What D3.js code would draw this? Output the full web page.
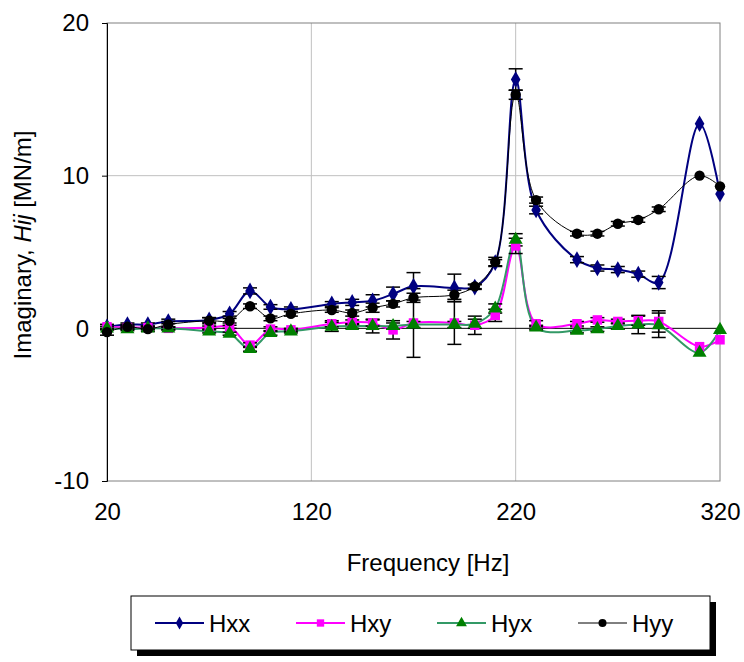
<!DOCTYPE html>
<html>
<head>
<meta charset="utf-8">
<script src="https://cdn.jsdelivr.net/npm/d3@7.9.0/dist/d3.min.js"></script>
<style>
  body { margin: 0; background: #fff; }
  text { font-family: "Liberation Sans", Arial, sans-serif; fill: #000; }
</style>
</head>
<body>
<svg id="chart" width="744" height="662"></svg>
<script>
const freq = [20,30,40,50,70,80,90,100,110,130,140,150,160,170,190,200,210,220,230,250,260,270,280,290,310,320];

const hxx = [0.1,0.25,0.25,0.45,0.55,0.95,2.45,1.4,1.25,1.6,1.7,1.8,2.25,2.75,2.65,2.7,4.3,16.3,7.75,4.5,3.95,3.85,3.55,3.0,13.4,8.8];
const hxy = [0.1,0.05,0.05,0.0,0.05,0.1,-1.1,-0.05,-0.1,0.3,0.4,0.35,-0.1,0.35,0.35,0.2,0.85,5.4,0.3,0.3,0.55,0.45,0.5,0.45,-1.2,-0.75];
const hyx = [0.0,-0.05,0.0,0.0,-0.2,-0.35,-1.35,-0.3,-0.2,0.1,0.15,0.15,0.15,0.25,0.25,0.3,1.3,5.8,0.05,-0.15,-0.05,0.15,0.25,0.2,-1.6,-0.1];
const hyy = [-0.25,0.1,-0.05,0.25,0.5,0.5,1.45,0.65,0.95,1.2,1.0,1.35,1.6,2.0,2.2,2.75,4.35,15.3,8.4,6.2,6.2,6.85,7.1,7.8,10.0,9.3];

// error bar half-lengths
const errXX = [0.15,0.1,0.1,0.15,0.15,0.15,0.2,0.15,0.15,0.15,0.2,0.4,0.45,0.9,0.9,0.15,0.2,0.7,0.25,0.2,0.2,0.2,0.2,0.4,0,0];
const errXY = [0.15,0.1,0.1,0.1,0.1,0.1,0.15,0.15,0.1,0.2,0.15,0.2,0.6,2.25,1.4,0.6,0.4,0.5,0.2,0.15,0.15,0.15,0.3,0.7,0,0];
const errYX = [0.1,0.1,0.1,0.1,0.1,0.1,0.15,0.15,0.1,0.3,0.15,0.45,0.2,0.2,0.2,0.3,0.3,0.4,0.15,0.15,0.15,0.2,0.6,0.8,0,0];
const errYY = [0.2,0.15,0.15,0.2,0.2,0.15,0.15,0.15,0.15,0.15,0.2,0.3,0.2,0.3,0.3,0.15,0.3,0.3,0.2,0.15,0.15,0.15,0.15,0.15,0,0];

const xTicks = [20,120,220,320];
const yTicks = [-10,0,10,20];

const series = [
  { name: 'Hxx', values: hxx, err: errXX, line: '#000080', fill: '#000080', width: 2, symbol: d3.symbolDiamond, size: 80 },
  { name: 'Hxy', values: hxy, err: errXY, line: '#ff00ff', fill: '#ff00ff', width: 2, symbol: d3.symbolSquare, size: 90 },
  { name: 'Hyx', values: hyx, err: errYX, line: '#339966', fill: '#008000', width: 2, symbol: d3.symbolTriangle, size: 85 },
  { name: 'Hyy', values: hyy, err: errYY, line: '#000000', fill: '#000000', width: 1, symbol: d3.symbolCircle, size: 85 }
];

const svg = d3.select('#chart');
const pL = 107, pR = 720, pT = 23, pB = 481;
const fontSize = '24px';

const x = d3.scaleLinear().domain([20, 320]).range([pL, pR]);
const y = d3.scaleLinear().domain([-10, 20]).range([pB, pT]);

// gridlines
svg.append('g').selectAll('line').data([120, 220]).join('line')
  .attr('x1', d => x(d)).attr('x2', d => x(d)).attr('y1', pT).attr('y2', pB)
  .attr('stroke', '#c0c0c0').attr('stroke-width', 1);
svg.append('g').selectAll('line').data([10]).join('line')
  .attr('x1', pL).attr('x2', pR).attr('y1', d => y(d)).attr('y2', d => y(d))
  .attr('stroke', '#c0c0c0').attr('stroke-width', 1);

// plot area border
svg.append('rect').attr('x', pL).attr('y', pT).attr('width', pR - pL).attr('height', pB - pT)
  .attr('fill', 'none').attr('stroke', '#808080').attr('stroke-width', 1);

// y axis
const yAxis = svg.append('g').attr('transform', `translate(${pL},0)`)
  .call(d3.axisLeft(y).tickValues(yTicks).tickSize(5).tickPadding(13).tickFormat(d => String(d)));
yAxis.select('.domain').attr('stroke', '#000');
yAxis.selectAll('text').style('font-size', fontSize).attr('font-family', 'Liberation Sans, Arial, sans-serif');

// zero line (x axis crossing)
svg.append('line').attr('x1', pL).attr('x2', pR).attr('y1', y(0)).attr('y2', y(0))
  .attr('stroke', '#000').attr('stroke-width', 1);

// x tick labels at bottom
const xAxis = svg.append('g').attr('transform', `translate(0,${pB})`)
  .call(d3.axisBottom(x).tickValues(xTicks).tickSize(0).tickPadding(22).tickFormat(d => String(d)));
xAxis.select('.domain').remove();
xAxis.selectAll('text').style('font-size', fontSize).attr('font-family', 'Liberation Sans, Arial, sans-serif');

// axis titles
svg.append('text').attr('x', 428).attr('y', 571).attr('text-anchor', 'middle')
  .style('font-size', fontSize).text('Frequency [Hz]');

const yt = svg.append('text').attr('transform', 'translate(31,245) rotate(-90)')
  .attr('text-anchor', 'middle').style('font-size', fontSize);
yt.append('tspan').text('Imaginary, ');
yt.append('tspan').style('font-style', 'italic').text('Hij');
yt.append('tspan').text(' [MN/m]');

const line = d3.line().x((d, i) => x(freq[i])).y(d => y(d)).curve(d3.curveCatmullRom.alpha(0.5));

// lines, error bars and markers per series
series.forEach(s => {
  svg.append('path').datum(s.values).attr('d', line)
    .attr('fill', 'none').attr('stroke', s.line).attr('stroke-width', s.width);
});

series.forEach(s => {
  const g = svg.append('g');
  const pts = s.values.map((v, i) => ({ f: freq[i], v, e: s.err[i] })).filter(d => d.e > 0);
  g.selectAll('line.v').data(pts).join('line')
    .attr('x1', d => x(d.f)).attr('x2', d => x(d.f))
    .attr('y1', d => y(d.v - d.e)).attr('y2', d => y(d.v + d.e))
    .attr('stroke', '#000').attr('stroke-width', 1.5);
  [-1, 1].forEach(sign => {
    g.append('g').selectAll('line').data(pts).join('line')
      .attr('x1', d => x(d.f) - 7).attr('x2', d => x(d.f) + 7)
      .attr('y1', d => y(d.v + sign * d.e)).attr('y2', d => y(d.v + sign * d.e))
      .attr('stroke', '#000').attr('stroke-width', 1.5);
  });
});

series.forEach(s => {
  svg.append('g').selectAll('path').data(s.values).join('path')
    .attr('transform', (d, i) => `translate(${x(freq[i])},${y(d)})`)
    .attr('d', d3.symbol().type(s.symbol).size(s.size))
    .attr('fill', s.fill);
});

// legend
const lg = svg.append('g');
lg.append('rect').attr('x', 137).attr('y', 602).attr('width', 579).attr('height', 54).attr('fill', '#000');
lg.append('rect').attr('x', 131).attr('y', 596).attr('width', 579).attr('height', 54)
  .attr('fill', '#fff').attr('stroke', '#000').attr('stroke-width', 1);

const legendX = [155, 296, 437, 578];
series.forEach((s, i) => {
  const lx = legendX[i], ly = 623;
  lg.append('line').attr('x1', lx).attr('x2', lx + 49).attr('y1', ly).attr('y2', ly)
    .attr('stroke', s.line).attr('stroke-width', s.width);
  lg.append('path').attr('transform', `translate(${lx + 24.5},${ly})`)
    .attr('d', d3.symbol().type(s.symbol).size(s.size * 0.6)).attr('fill', s.fill);
  lg.append('text').attr('x', lx + 54).attr('y', ly + 9).style('font-size', fontSize).text(s.name);
});
</script>
</body>
</html>
